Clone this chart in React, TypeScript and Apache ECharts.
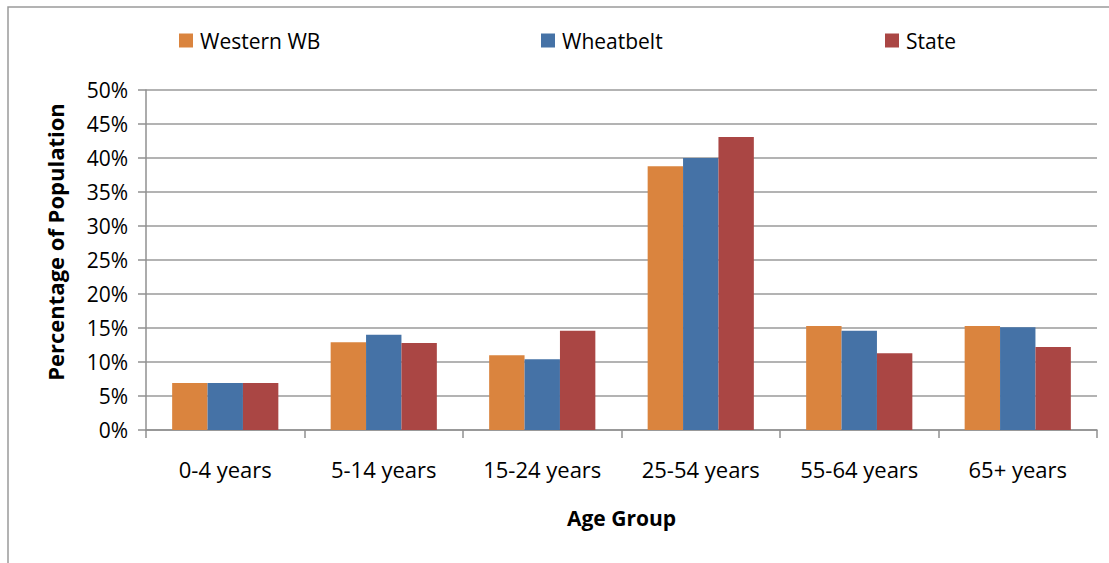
import React, { useEffect, useRef } from "react";
import * as echarts from "echarts";

const categories = ["0-4 years", "5-14 years", "15-24 years", "25-54 years", "55-64 years", "65+ years"];
const westernWB = [6.9, 12.9, 11.0, 38.8, 15.3, 15.3];
const wheatbelt = [6.9, 14.0, 10.4, 40.0, 14.6, 15.1];
const state = [6.9, 12.8, 14.6, 43.1, 11.3, 12.2];
const seriesNames = ["Western WB", "Wheatbelt", "State"];
const colors = ["#DA843E", "#4572A6", "#AA4644"];

const FONT = "'Open Sans', 'Noto Sans', sans-serif";

export default function App() {
  const ref = useRef<HTMLDivElement>(null);
  useEffect(() => {
    if (!ref.current) return;
    const chart = echarts.init(ref.current, null, { renderer: "svg" });
    const legendLefts = [174, 536, 880];
    chart.setOption({
      animation: false,
      backgroundColor: "#ffffff",
      textStyle: { fontFamily: FONT },
      graphic: [
        {
          type: "rect",
          shape: { x: 8, y: 7, width: 1120, height: 620 },
          style: { fill: "none", stroke: "#9a9a9a", lineWidth: 1.5 },
          silent: true,
        },
      ],
      legend: seriesNames.map((n, i) => ({
        data: [n],
        left: legendLefts[i],
        top: 25,
        itemWidth: 14,
        itemHeight: 14,
        itemGap: 0,
        textStyle: { fontFamily: FONT, fontSize: 21, color: "#000", padding: [0, 0, 0, 2] },
        icon: "rect",
      })),
      grid: { left: 146, right: 12, top: 90, bottom: 133, containLabel: false },
      xAxis: {
        type: "category",
        data: categories,
        name: "Age Group",
        nameLocation: "middle",
        nameGap: 77,
        nameTextStyle: { fontFamily: FONT, fontSize: 21, fontWeight: "bold", color: "#000" },
        axisLine: { lineStyle: { color: "#909090", width: 1.5 } },
        axisTick: { show: true, length: 8, lineStyle: { color: "#909090", width: 1.5 } },
        axisLabel: { fontFamily: FONT, fontSize: 22, color: "#000", margin: 28 },
      },
      yAxis: {
        type: "value",
        min: 0,
        max: 50,
        interval: 5,
        name: "Percentage of Population",
        nameLocation: "middle",
        nameGap: 80,
        nameTextStyle: {
          fontFamily: FONT,
          fontSize: 22,
          fontWeight: "bold",
          color: "#000",
          padding: [0, 0, 0, 36],
        },
        axisLine: { show: true, lineStyle: { color: "#909090", width: 1.5 } },
        axisTick: { show: true, length: 8, lineStyle: { color: "#909090", width: 1.5 } },
        axisLabel: { fontFamily: FONT, fontSize: 21, color: "#000", margin: 18, formatter: "{value}%" },
        splitLine: { lineStyle: { color: "#9a9a9a", width: 1.5 } },
      },
      series: [westernWB, wheatbelt, state].map((d, i) => ({
        name: seriesNames[i],
        type: "bar",
        data: d,
        barGap: "0%",
        barCategoryGap: "33%",
        itemStyle: { color: colors[i] },
      })),
    });
    return () => chart.dispose();
  }, []);
  return (
    <div
      ref={ref}
      style={{ position: "fixed", left: 0, top: 0, width: 1109, height: 563 }}
    />
  );
}
